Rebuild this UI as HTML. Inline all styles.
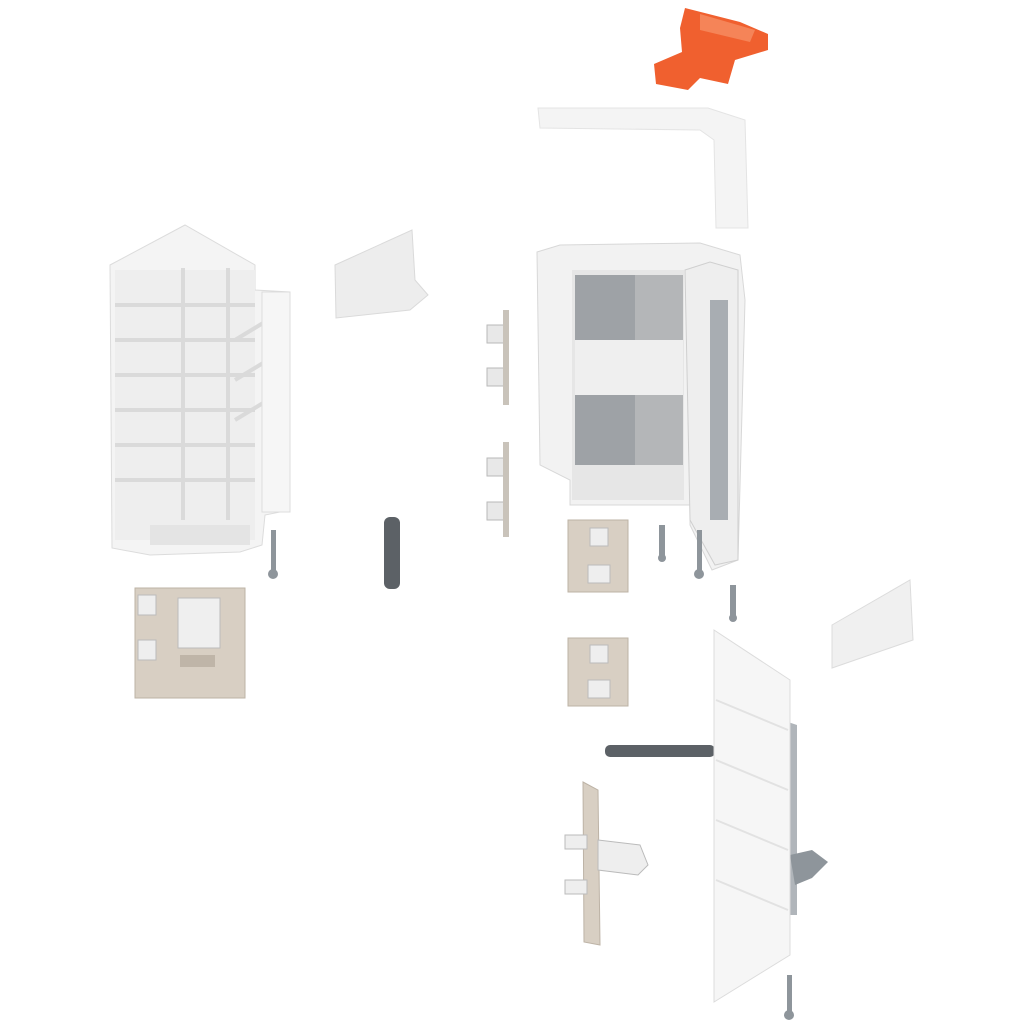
<!DOCTYPE html>
<html><head><meta charset="utf-8"><style>html,body{margin:0;padding:0;background:#fff}svg{display:block}</style></head>
<body>
<svg width="1024" height="1024" viewBox="0 0 1024 1024" xmlns="http://www.w3.org/2000/svg">
<rect width="1024" height="1024" fill="#fff"/>
<polygon points="685,8 740,22 768,34 768,50 735,60 728,84 700,78 688,90 656,84 654,64 682,52 680,28" fill="#f0602f"/>
<polygon points="700,14 755,30 750,42 700,30" fill="#f58458"/>
<polygon points="538,108 708,108 745,120 748,228 716,228 714,140 700,130 540,128" fill="#f4f4f4" stroke="#e4e4e4"/>
<polygon points="110,265 185,225 255,265 255,290 290,292 290,510 265,515 262,545 240,552 150,555 112,548" fill="#f4f4f4" stroke="#dcdcdc"/>
<rect x="115" y="270" width="140" height="270" fill="#eeeeee"/>
<g stroke="#dadada" stroke-width="4" fill="none">
<line x1="183" y1="268" x2="183" y2="520"/><line x1="228" y1="268" x2="228" y2="520"/>
<line x1="115" y1="305" x2="255" y2="305"/><line x1="115" y1="340" x2="255" y2="340"/>
<line x1="115" y1="375" x2="255" y2="375"/><line x1="115" y1="410" x2="255" y2="410"/>
<line x1="115" y1="445" x2="255" y2="445"/><line x1="115" y1="480" x2="255" y2="480"/>
<line x1="235" y1="340" x2="268" y2="320"/><line x1="235" y1="380" x2="268" y2="360"/><line x1="235" y1="420" x2="268" y2="400"/>
</g>
<rect x="262" y="292" width="28" height="220" fill="#f6f6f6" stroke="#ddd"/>
<rect x="150" y="525" width="100" height="20" fill="#e4e4e4"/>
<polygon points="335,265 412,230 415,280 428,295 410,310 336,318" fill="#ededed" stroke="#dadada"/>
<g fill="#e8e8e8" stroke="#b9b9b9">
<rect x="487" y="325" width="20" height="18"/><rect x="487" y="368" width="20" height="18"/>
<rect x="487" y="458" width="20" height="18"/><rect x="487" y="502" width="20" height="18"/>
</g>
<rect x="503" y="310" width="6" height="95" fill="#c9c3ba"/>
<rect x="503" y="442" width="6" height="95" fill="#c9c3ba"/>
<polygon points="537,252 560,245 700,243 740,255 745,300 738,560 712,570 690,525 690,505 570,505 570,480 540,465" fill="#f2f2f2" stroke="#d8d8d8"/>
<rect x="572" y="270" width="112" height="230" fill="#e6e6e6"/>
<rect x="575" y="275" width="60" height="65" fill="#9ea2a6"/>
<rect x="575" y="395" width="60" height="70" fill="#9ea2a6"/>
<rect x="635" y="275" width="48" height="65" fill="#b4b6b8"/>
<rect x="635" y="395" width="48" height="70" fill="#b4b6b8"/>
<rect x="575" y="340" width="108" height="55" fill="#efefef"/>
<polygon points="685,270 710,262 738,270 738,560 715,565 690,520" fill="#eeeeee" stroke="#cfcfcf"/>
<rect x="710" y="300" width="18" height="220" fill="#a8adb2"/>
<g fill="#d8cfc3" stroke="#bdb3a6">
<rect x="135" y="588" width="110" height="110"/>
<rect x="568" y="520" width="60" height="72"/>
<rect x="568" y="638" width="60" height="68"/>
<polygon points="583,782 598,790 600,945 584,942"/>
</g>
<rect x="178" y="598" width="42" height="50" fill="#efefef" stroke="#bbb"/>
<rect x="180" y="655" width="35" height="12" fill="#bfb5a8"/>
<g fill="#eeeeee" stroke="#bbb">
<rect x="138" y="595" width="18" height="20"/><rect x="138" y="640" width="18" height="20"/>
<rect x="590" y="528" width="18" height="18"/><rect x="588" y="565" width="22" height="18"/>
<rect x="590" y="645" width="18" height="18"/><rect x="588" y="680" width="22" height="18"/>
<rect x="565" y="835" width="22" height="14"/><rect x="565" y="880" width="22" height="14"/>
<polygon points="598,840 640,845 648,865 638,875 598,870"/>
</g>
<rect x="384" y="517" width="16" height="72" rx="6" fill="#5c6166"/>
<rect x="605" y="745" width="110" height="12" rx="5" fill="#5c6166"/>
<g fill="#8e959b">
<rect x="271" y="530" width="5" height="40"/><circle cx="273" cy="574" r="5"/>
<rect x="659" y="525" width="6" height="35"/><circle cx="662" cy="558" r="4"/>
<rect x="697" y="530" width="5" height="40"/><circle cx="699" cy="574" r="5"/>
<rect x="730" y="585" width="6" height="35"/><circle cx="733" cy="618" r="4"/>
<rect x="787" y="975" width="5" height="40"/><circle cx="789" cy="1015" r="5"/>
</g>
<polygon points="832,625 910,580 913,640 832,668" fill="#f0f0f0" stroke="#dcdcdc"/>
<polygon points="788,722 797,725 797,915 788,915" fill="#b0b5ba"/>
<polygon points="790,855 812,850 828,862 812,878 795,885" fill="#8e959b"/>
<polygon points="714,630 790,680 790,955 714,1002" fill="#f6f6f6" stroke="#dcdcdc"/>
<g stroke="#e2e2e2" stroke-width="2">
<line x1="716" y1="700" x2="788" y2="730"/><line x1="716" y1="760" x2="788" y2="790"/>
<line x1="716" y1="820" x2="788" y2="850"/><line x1="716" y1="880" x2="788" y2="910"/>
</g>
</svg>
</body></html>
